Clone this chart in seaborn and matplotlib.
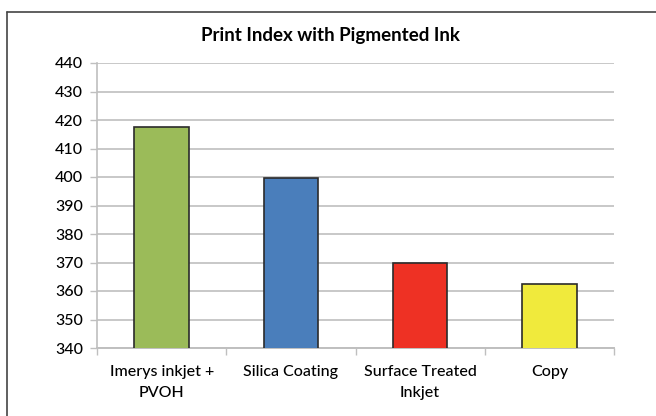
import matplotlib
matplotlib.use("Agg")
import matplotlib.pyplot as plt
import seaborn as sns
import pandas as pd
import numpy as np
from matplotlib.lines import Line2D

categories = ["Imerys inkjet +\nPVOH", "Silica Coating", "Surface Treated\nInkjet", "Copy"]
values = [417.5, 399.8, 369.7, 362.3]
colors = ["#9BBB59", "#4A7EBB", "#EE3124", "#F0EA3C"]
yticks = [340, 350, 360, 370, 380, 390, 400, 410, 420, 430, 440]
title = "Print Index with Pigmented Ink"

sns.set_theme(style="white")
plt.rcParams['font.family'] = ['Lato', 'DejaVu Sans']

df = pd.DataFrame({"cat": categories, "val": values})

fig = plt.figure(figsize=(6.56, 4.16), dpi=100)
ax = fig.add_axes([97/656, 1-348/416, (614-97)/656, (348-63)/416])

sns.barplot(data=df, x="cat", y="val", hue="cat", palette=colors, legend=False,
            saturation=1, width=0.42, edgecolor="#2b2b2b", linewidth=1.2, ax=ax, zorder=3)

ax.set_ylim(340, 440)
ax.set_xlim(-0.5, 3.5)
ax.set_yticks(yticks)
ax.set_yticklabels([str(t) for t in yticks], fontsize=11.5, color="#000000", fontweight="medium")
ax.set_xticks(range(len(categories)))
ax.set_xticklabels(categories, fontsize=11.5, color="#000000", linespacing=1.65, fontweight="medium")
ax.set_xticks(np.arange(-0.5, 4.0, 1.0), minor=True)
ax.tick_params(axis="x", which="major", length=0, pad=12)
ax.tick_params(axis="x", which="minor", length=5, width=1, color="#BFBFBF", bottom=True)
ax.tick_params(axis="y", which="major", length=5, width=1, color="#BFBFBF", left=True, pad=5)
ax.yaxis.grid(True, color="#C8C8C8", linewidth=1.4, zorder=0)
ax.xaxis.grid(False)
ax.set_axisbelow(True)
for s in ["top", "right"]:
    ax.spines[s].set_visible(False)
ax.spines["left"].set_color("#BFBFBF")
ax.spines["bottom"].set_color("#BFBFBF")
ax.spines["left"].set_linewidth(1.2)
ax.spines["bottom"].set_linewidth(1.4)
ax.set_xlabel("")
ax.set_ylabel("")

fig.text(331/656, 1-35/416, title, ha="center", va="center", fontsize=13.5, fontweight="bold", color="#000000")

# outer frame (top and left edges)
fig.add_artist(Line2D([7/656, 1], [1-12/416, 1-12/416], transform=fig.transFigure, color="#444444", linewidth=1.2))
fig.add_artist(Line2D([7/656, 7/656], [0, 1-12/416], transform=fig.transFigure, color="#444444", linewidth=1.2))

fig.savefig("out.png", dpi=100)
